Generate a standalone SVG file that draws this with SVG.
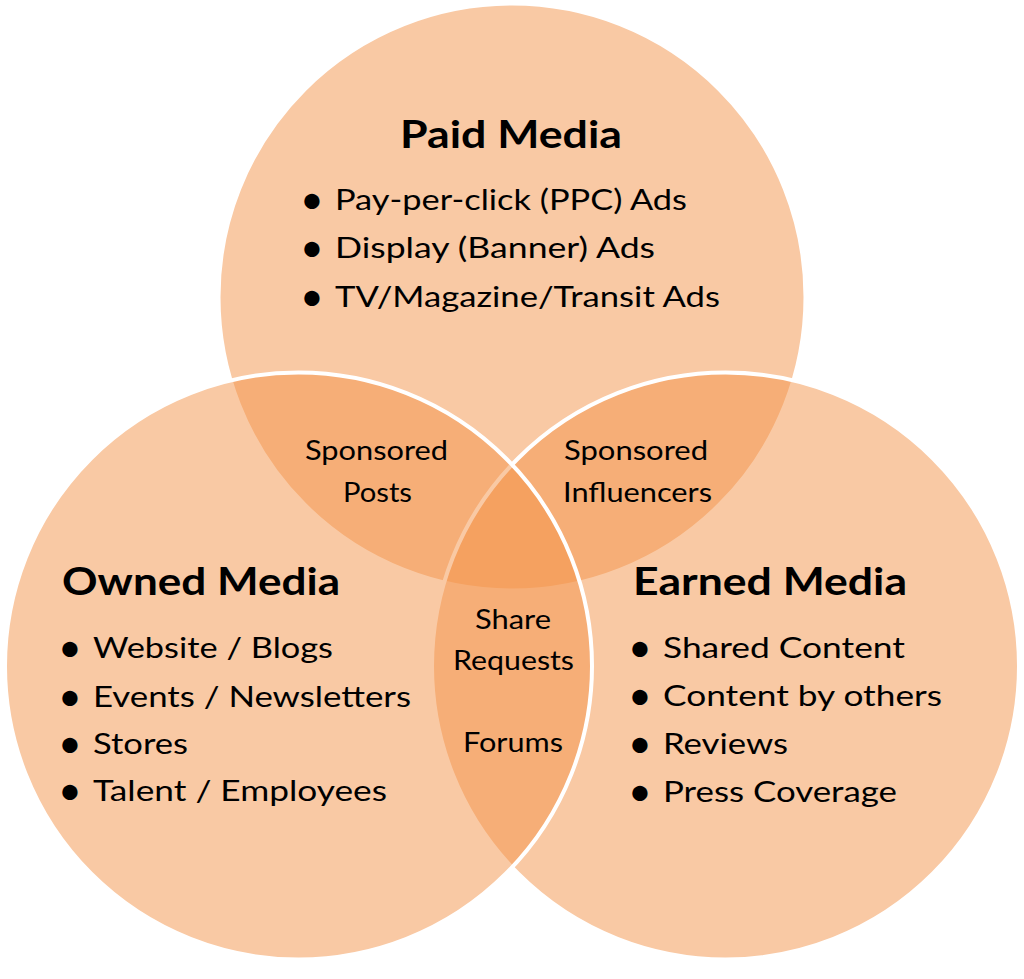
<svg xmlns="http://www.w3.org/2000/svg" width="1024" height="979" viewBox="0 0 1024 979">
  <style>
    .circle { fill: #F39349; fill-opacity: 0.5; stroke: #FFFFFF; stroke-width: 4; }
    text { font-family: Lato, "Open Sans", "Liberation Sans", sans-serif; fill: #000000; }
    .title { font-size: 38px; font-weight: bold; }
    .item { font-size: 29px; }
    .bullet { font-size: 41px; text-anchor: middle; }
    .lap { font-size: 26px; }
  </style>
  <rect x="0" y="0" width="1024" height="979" fill="#FFFFFF"/>

  <g id="paid-media">
    <circle class="circle" cx="512" cy="297" r="293.5"/>
    <text class="title" x="400" y="148" textLength="222" lengthAdjust="spacingAndGlyphs">Paid Media</text>
    <text class="bullet" x="312" y="214">•</text>
    <text class="item" x="335" y="210" textLength="352" lengthAdjust="spacingAndGlyphs">Pay-per-click (PPC) Ads</text>
    <text class="bullet" x="312" y="262">•</text>
    <text class="item" x="335" y="258" textLength="320" lengthAdjust="spacingAndGlyphs">Display (Banner) Ads</text>
    <text class="bullet" x="312" y="311">•</text>
    <text class="item" x="335" y="307" textLength="385" lengthAdjust="spacingAndGlyphs">TV/Magazine/Transit Ads</text>
  </g>

  <g id="earned-media">
    <circle class="circle" cx="725.5" cy="666" r="293.5"/>
    <text class="title" x="633" y="595" textLength="274" lengthAdjust="spacingAndGlyphs">Earned Media</text>
    <text class="bullet" x="640" y="662">•</text>
    <text class="item" x="663" y="658" textLength="242" lengthAdjust="spacingAndGlyphs">Shared Content</text>
    <text class="bullet" x="640" y="710">•</text>
    <text class="item" x="663" y="706" textLength="279" lengthAdjust="spacingAndGlyphs">Content by others</text>
    <text class="bullet" x="640" y="758">•</text>
    <text class="item" x="663" y="754" textLength="125" lengthAdjust="spacingAndGlyphs">Reviews</text>
    <text class="bullet" x="640" y="806">•</text>
    <text class="item" x="663" y="802" textLength="234" lengthAdjust="spacingAndGlyphs">Press Coverage</text>
  </g>

  <g id="owned-media">
    <circle class="circle" cx="298.5" cy="666" r="293.5"/>
    <text class="title" x="62" y="595" textLength="278" lengthAdjust="spacingAndGlyphs">Owned Media</text>
    <text class="bullet" x="70" y="662">•</text>
    <text class="item" x="93" y="658" textLength="240" lengthAdjust="spacingAndGlyphs">Website / Blogs</text>
    <text class="bullet" x="70" y="711">•</text>
    <text class="item" x="93" y="707" textLength="318" lengthAdjust="spacingAndGlyphs">Events / Newsletters</text>
    <text class="bullet" x="70" y="758">•</text>
    <text class="item" x="93" y="754" textLength="95" lengthAdjust="spacingAndGlyphs">Stores</text>
    <text class="bullet" x="70" y="805">•</text>
    <text class="item" x="93" y="801" textLength="294" lengthAdjust="spacingAndGlyphs">Talent / Employees</text>
  </g>

  <g id="sponsored-posts">
    <text class="lap" x="305" y="460" textLength="143" lengthAdjust="spacingAndGlyphs">Sponsored</text>
    <text class="lap" x="343" y="502" textLength="69" lengthAdjust="spacingAndGlyphs">Posts</text>
  </g>

  <g id="sponsored-influencers">
    <text class="lap" x="564" y="460" textLength="144" lengthAdjust="spacingAndGlyphs">Sponsored</text>
    <text class="lap" x="563" y="502" textLength="149" lengthAdjust="spacingAndGlyphs">Influencers</text>
  </g>

  <g id="share-forums">
    <text class="lap" x="475" y="629" textLength="76" lengthAdjust="spacingAndGlyphs">Share</text>
    <text class="lap" x="453" y="670" textLength="121" lengthAdjust="spacingAndGlyphs">Requests</text>
    <text class="lap" x="463" y="752" textLength="100" lengthAdjust="spacingAndGlyphs">Forums</text>
  </g>
</svg>
